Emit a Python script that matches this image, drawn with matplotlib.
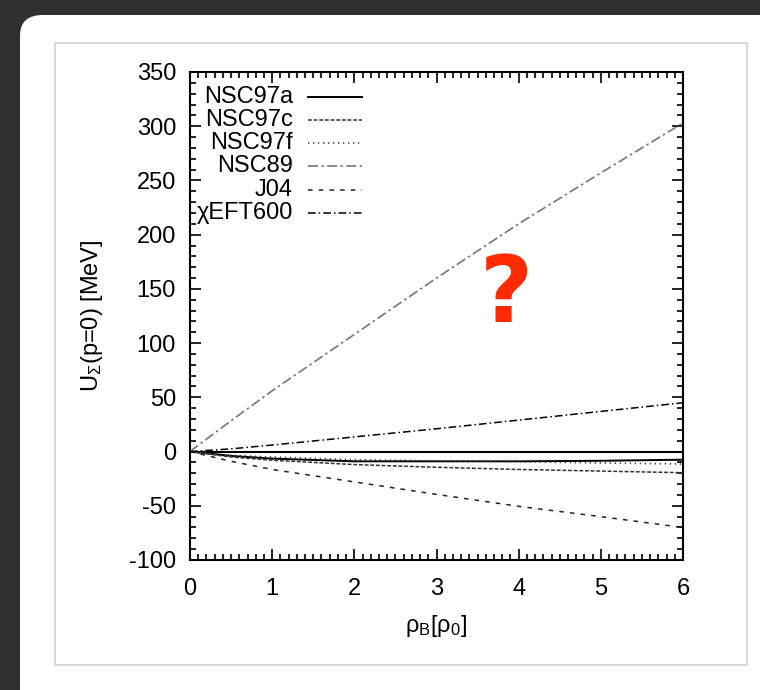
import matplotlib.pyplot as plt
from matplotlib.patches import FancyBboxPatch, Rectangle
from matplotlib.lines import Line2D

plt.rcParams['font.family'] = ['Liberation Sans', 'DejaVu Sans']
plt.rcParams['mathtext.fontset'] = 'custom'
plt.rcParams['mathtext.rm'] = 'Liberation Sans'
plt.rcParams['mathtext.it'] = 'Liberation Sans:italic'
plt.rcParams['axes.unicode_minus'] = False

# density in units of rho_0
rho = [0, 0.5, 1, 2, 3, 4, 5, 6]

# U_Sigma(p=0) in MeV
nsc97a = [0, -4, -6.5, -9, -9, -9, -8.5, -7.5]
nsc97c = [0, -5, -8, -12, -14.5, -16.5, -18, -19.5]
nsc97f = [0, -3.5, -5, -7.5, -8.5, -9.5, -10.5, -11.5]
nsc89 = [0, 28.5, 56, 108, 160, 210, 257, 303]
j04 = [0, -9, -16.5, -28, -39.5, -50.5, -60, -70]
eft600 = [0, 2.5, 6, 13.5, 21, 29, 37, 45]

labels = ['NSC97a', 'NSC97c', 'NSC97f', 'NSC89', 'J04', 'χEFT600']
series = [nsc97a, nsc97c, nsc97f, nsc89, j04, eft600]
styles = [
    dict(color='black', linestyle='-', lw=1.4),
    dict(color='#333333', linestyle=(0, (2.5, 1.2)), lw=1.1),
    dict(color='#444444', linestyle=(0, (0.8, 2.2)), lw=1.2),
    dict(color='#777777', linestyle=(0, (6, 2, 1.5, 2)), lw=1.2),
    dict(color='#222222', linestyle=(0, (3, 4)), lw=1.1),
    dict(color='black', linestyle=(0, (5, 2, 1, 2)), lw=1.1),
]

fs = 17

fig = plt.figure(figsize=(7.6, 6.9), dpi=100, facecolor='#2e3033')

# white card and light frame behind the chart
card = FancyBboxPatch((20 / 760, -0.2), 1.2, 1.2 - 15 / 690,
                      boxstyle='round,pad=0,rounding_size=0.03',
                      transform=fig.transFigure, facecolor='white',
                      edgecolor='none', zorder=0)
fig.patches.append(card)
frame = Rectangle((55 / 760, 1 - 665 / 690), (747 - 55) / 760, (665 - 43) / 690,
                  transform=fig.transFigure, facecolor='white',
                  edgecolor='#d2d2d2', lw=1.2, zorder=1)
fig.patches.append(frame)

ax = fig.add_axes([190 / 760, 1 - 560 / 690, 493 / 760, 488 / 690])
ax.set_zorder(3)
ax.set_facecolor('white')

ax.axhline(0, color='black', lw=1.5, zorder=2)
for y, st in zip(series, styles):
    ax.plot(rho, y, zorder=3, **st)

ax.set_xlim(0, 6)
ax.set_ylim(-100, 350)
ax.set_xticks(range(0, 7))
ax.set_yticks(range(-100, 351, 50))
ax.set_xticks([i / 10 for i in range(61)], minor=True)
ax.set_yticks(range(-100, 351, 10), minor=True)
ax.tick_params(which='both', direction='in', top=True, right=True,
               color='black', width=1.2, labelsize=fs)
ax.tick_params(which='major', length=8)
ax.tick_params(which='minor', length=4)
ax.tick_params(axis='x', which='major', pad=13)
ax.tick_params(axis='y', which='major', pad=10)
for sp in ax.spines.values():
    sp.set_linewidth(1.5)

ax.set_xlabel('ρ$_{\\mathrm{B}}$[ρ$_{\\mathrm{0}}$]', fontsize=fs, labelpad=9)
ax.set_ylabel('U$_{\\Sigma}$(p=0) [MeV]', fontsize=fs, labelpad=17)

# gnuplot-style key: right-aligned text, sample on the right
y0, dy = 0.949, 0.0475
for i, (lab, st) in enumerate(zip(labels, styles)):
    yy = y0 - i * dy
    ax.text(0.209, yy, lab, transform=ax.transAxes, ha='right', va='center',
            fontsize=fs)
    ax.add_line(Line2D([0.239, 0.349], [yy, yy], transform=ax.transAxes, **st))

fig.text(506 / 760, 1 - 296 / 690, '?', color='#ff2a00', fontsize=66,
         fontweight='bold', family='DejaVu Sans', ha='center', va='center',
         zorder=5)

fig.savefig('out.png', dpi=100, facecolor=fig.get_facecolor())
